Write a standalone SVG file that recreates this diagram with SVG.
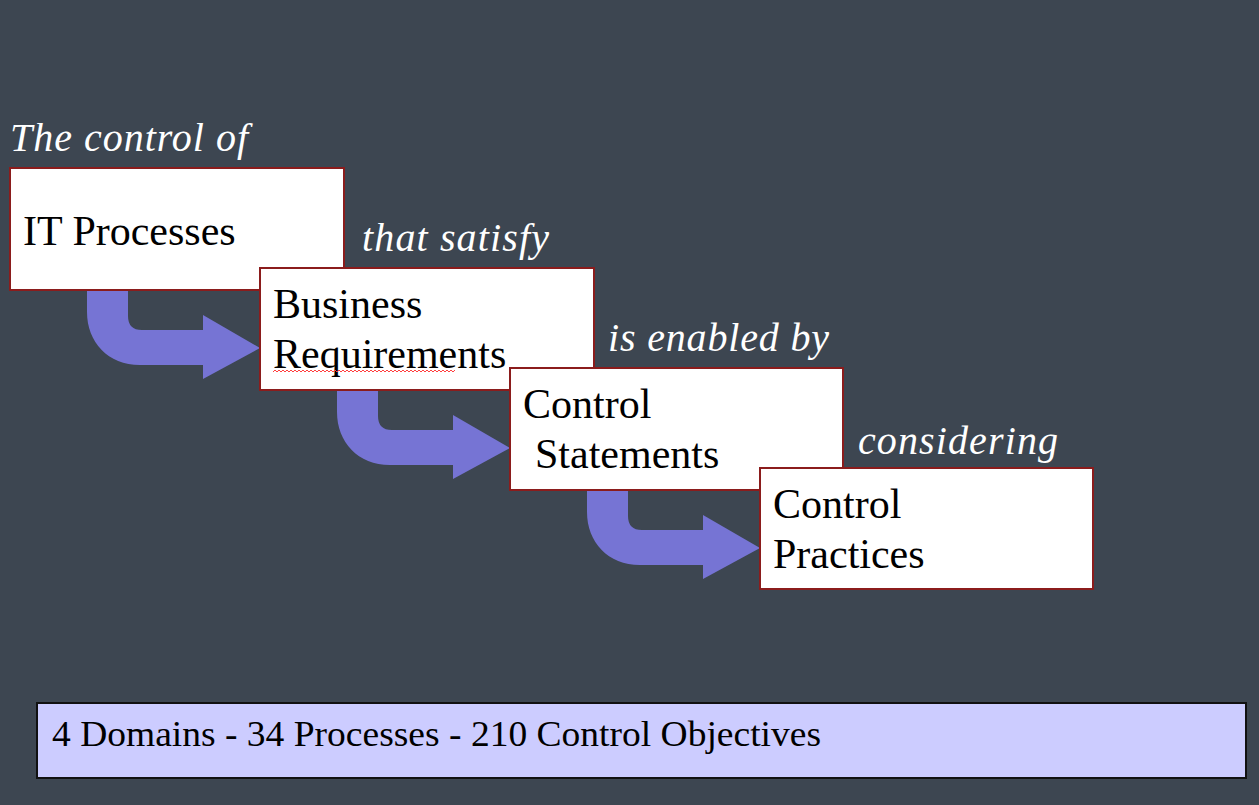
<svg xmlns="http://www.w3.org/2000/svg" width="1259" height="805" viewBox="0 0 1259 805">
<defs>
<style>
.bg{fill:#3d4651}
.box{fill:#ffffff;stroke:#8b1c1c;stroke-width:2}
.bt{font-family:"Liberation Serif","Times New Roman",serif;font-size:42px;fill:#000}
.it{font-family:"Liberation Serif","Times New Roman",serif;font-style:italic;font-size:40px;fill:#ffffff}
.arr{fill:#7674d4}
.sum{fill:#ccccff;stroke:#111;stroke-width:2}
.st{font-family:"Liberation Serif","Times New Roman",serif;font-size:36px;fill:#000}
.sq{fill:none;stroke:#ff4040;stroke-width:1}
</style>
<path id="bend" d="M87,290 L128,290 L128,316 Q128,330 142,330 L203,330 L203,315 L260,348 L203,379 L203,365 L140,365 C108,365 87,342 87,312 Z"/>
</defs>
<rect class="bg" x="0" y="0" width="1259" height="805"/>
<g id="connectors">
<use href="#bend" class="arr"/>
<use href="#bend" class="arr" transform="translate(250,100)"/>
<use href="#bend" class="arr" transform="translate(500,200)"/>
</g>
<g id="labels">
<text class="it" x="10" y="151" textLength="238" lengthAdjust="spacing">The control of</text>
<text class="it" x="362" y="251" textLength="187" lengthAdjust="spacing">that satisfy</text>
<text class="it" x="608" y="351" textLength="221" lengthAdjust="spacing">is enabled by</text>
<text class="it" x="858" y="454" textLength="200" lengthAdjust="spacing">considering</text>
</g>
<g id="node-it-processes">
<rect class="box" x="10" y="168" width="334" height="122"/>
<text class="bt" x="23" y="245">IT Processes</text>
</g>
<g id="node-business-requirements">
<rect class="box" x="260" y="268" width="334" height="122"/>
<text class="bt" x="273" y="318">Business</text>
<text class="bt" x="273" y="368">Requirements</text>
<path class="sq" d="M273,372 l2,-2 l2,2 l2,-2 l2,2 l2,-2 l2,2 l2,-2 l2,2 l2,-2 l2,2 l2,-2 l2,2 l2,-2 l2,2 l2,-2 l2,2 l2,-2 l2,2 l2,-2 l2,2 l2,-2 l2,2 l2,-2 l2,2 l2,-2 l2,2 l2,-2 l2,2 l2,-2 l2,2 l2,-2 l2,2 l2,-2 l2,2 l2,-2 l2,2 l2,-2 l2,2 l2,-2 l2,2 l2,-2 l2,2 l2,-2 l2,2 l2,-2 l2,2 l2,-2 l2,2 l2,-2 l2,2 l2,-2 l2,2 l2,-2 l2,2 l2,-2 l2,2 l2,-2 l2,2 l2,-2 l2,2 l2,-2 l2,2 l2,-2 l2,2 l2,-2 l2,2 l2,-2 l2,2 l2,-2 l2,2 l2,-2 l2,2 l2,-2 l2,2 l2,-2 l2,2 l2,-2 l2,2 l2,-2 l2,2 l2,-2 l2,2 l2,-2 l2,2 l2,-2 l2,2 l2,-2 l2,2 l2,-2 l2,2 l2,-2"/>
</g>
<g id="node-control-statements">
<rect class="box" x="510" y="368" width="333" height="122"/>
<text class="bt" x="523" y="418">Control</text>
<text class="bt" x="535" y="468">Statements</text>
</g>
<g id="node-control-practices">
<rect class="box" x="760" y="468" width="333" height="121"/>
<text class="bt" x="773" y="518">Control</text>
<text class="bt" x="773" y="568">Practices</text>
</g>
<g id="node-summary">
<rect class="sum" x="37" y="703" width="1209" height="75"/>
<text class="st" x="52" y="746" textLength="769" lengthAdjust="spacingAndGlyphs">4 Domains - 34 Processes - 210 Control Objectives</text>
</g>
</svg>
